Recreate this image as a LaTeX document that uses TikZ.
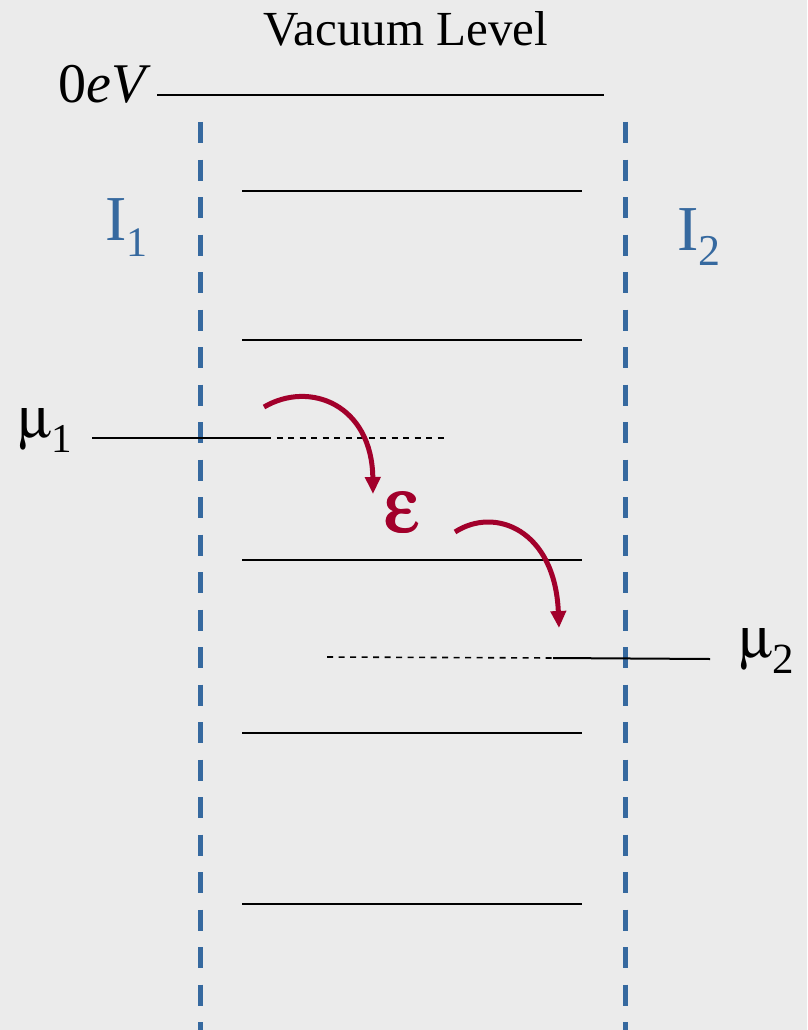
\documentclass[tikz,border=0pt]{standalone}
\usepackage{fontspec}
\usepackage[Symbol]{upgreek}
\setmainfont{Liberation Serif}
\usetikzlibrary{arrows.meta}
\definecolor{bg}{HTML}{EBEBEB}
\definecolor{ifblue}{HTML}{36699F}
\definecolor{hopred}{HTML}{A2002B}
\tikzset{
  level/.style={line width=2pt, black},
  fermidash/.style={line width=1.6pt, black, dash pattern=on 6pt off 5.5pt},
  iface/.style={line width=5pt, ifblue, dash pattern=on 21pt off 16.5pt},
  hop/.style={line width=5pt, hopred, -{Triangle[length=17pt,width=15pt]}},
  lbl/.style={inner sep=0pt, outer sep=0pt, font=\fontsize{50}{56}\selectfont}
}
\newcommand{\heavy}[1]{\rlap{#1}\kern0.9pt\rlap{#1}\kern-0.9pt\raisebox{0.6pt}{#1}}
\begin{document}
\begin{tikzpicture}[x=1pt,y=-1pt]
\useasboundingbox[fill=bg] (0,0) rectangle (807,1030);
% interfaces
\coordinate (i1t) at (200,122); \coordinate (i1b) at (200,1030);
\coordinate (i2t) at (625,122); \coordinate (i2b) at (625,1030);
\draw[iface] (i1t) -- (i1b);
\draw[iface] (i2t) -- (i2b);
% vacuum level
\node[lbl, anchor=base] (vac) at (406,46) {\fontsize{49}{56}\selectfont Vacuum Level};
\node[lbl, anchor=base east] (zero) at (151,103) {\fontsize{56}{60}\selectfont 0\textit{eV}};
\coordinate (v0a) at (157,95); \coordinate (v0b) at (604,95);
\draw[level] (v0a) -- (v0b);
% levels
\foreach \y/\n in {191/a,340/b,560/c,733/d,904/e}{
  \coordinate (L\n1) at (242,\y); \coordinate (L\n2) at (582,\y);
  \draw[level] (L\n1) -- (L\n2);
}
% mu1
\node[lbl, anchor=base west] (mu1) at (18,437) {\fontsize{58}{62}\selectfont$\upmu$\raisebox{-15pt}{\fontsize{41}{44}\selectfont 1}};
\coordinate (m1a) at (92,438); \coordinate (m1b) at (265,438); \coordinate (m1c) at (448,438);
\draw[level] (m1a) -- (m1b);
\draw[fermidash] (m1b) -- (m1c);
% mu2
\node[lbl, anchor=base west] (mu2) at (739,657) {\fontsize{58}{62}\selectfont$\upmu$\raisebox{-16pt}{\fontsize{43}{46}\selectfont 2}};
\coordinate (m2a) at (327,657); \coordinate (m2b) at (553,658); \coordinate (m2c) at (710,659);
\draw[fermidash] (m2a) -- (m2b);
\draw[level] (m2b) -- (m2c);
% interface labels
\node[lbl, anchor=base west, text=ifblue] (I1) at (105,240) {\fontsize{64}{70}\selectfont I\raisebox{-16pt}{\fontsize{42}{46}\selectfont 1}};
\node[lbl, anchor=base west, text=ifblue] (I2) at (677,250) {\fontsize{64}{70}\selectfont I\raisebox{-15pt}{\fontsize{44}{48}\selectfont 2}};
% epsilon
\node[lbl, text=hopred] (eps) at (402,513) {\fontsize{78}{82}\selectfont\heavy{$\upepsilon$}};
% hops
\coordinate (h1s) at (264,407); \coordinate (h1e) at (373,494);
\coordinate (h2s) at (455,532); \coordinate (h2e) at (559,628);
\draw[hop] (h1s) .. controls (310,380) and (372,405) .. (h1e);
\draw[hop] (h2s) .. controls (495,506) and (555,530) .. (h2e);
\end{tikzpicture}
\end{document}
